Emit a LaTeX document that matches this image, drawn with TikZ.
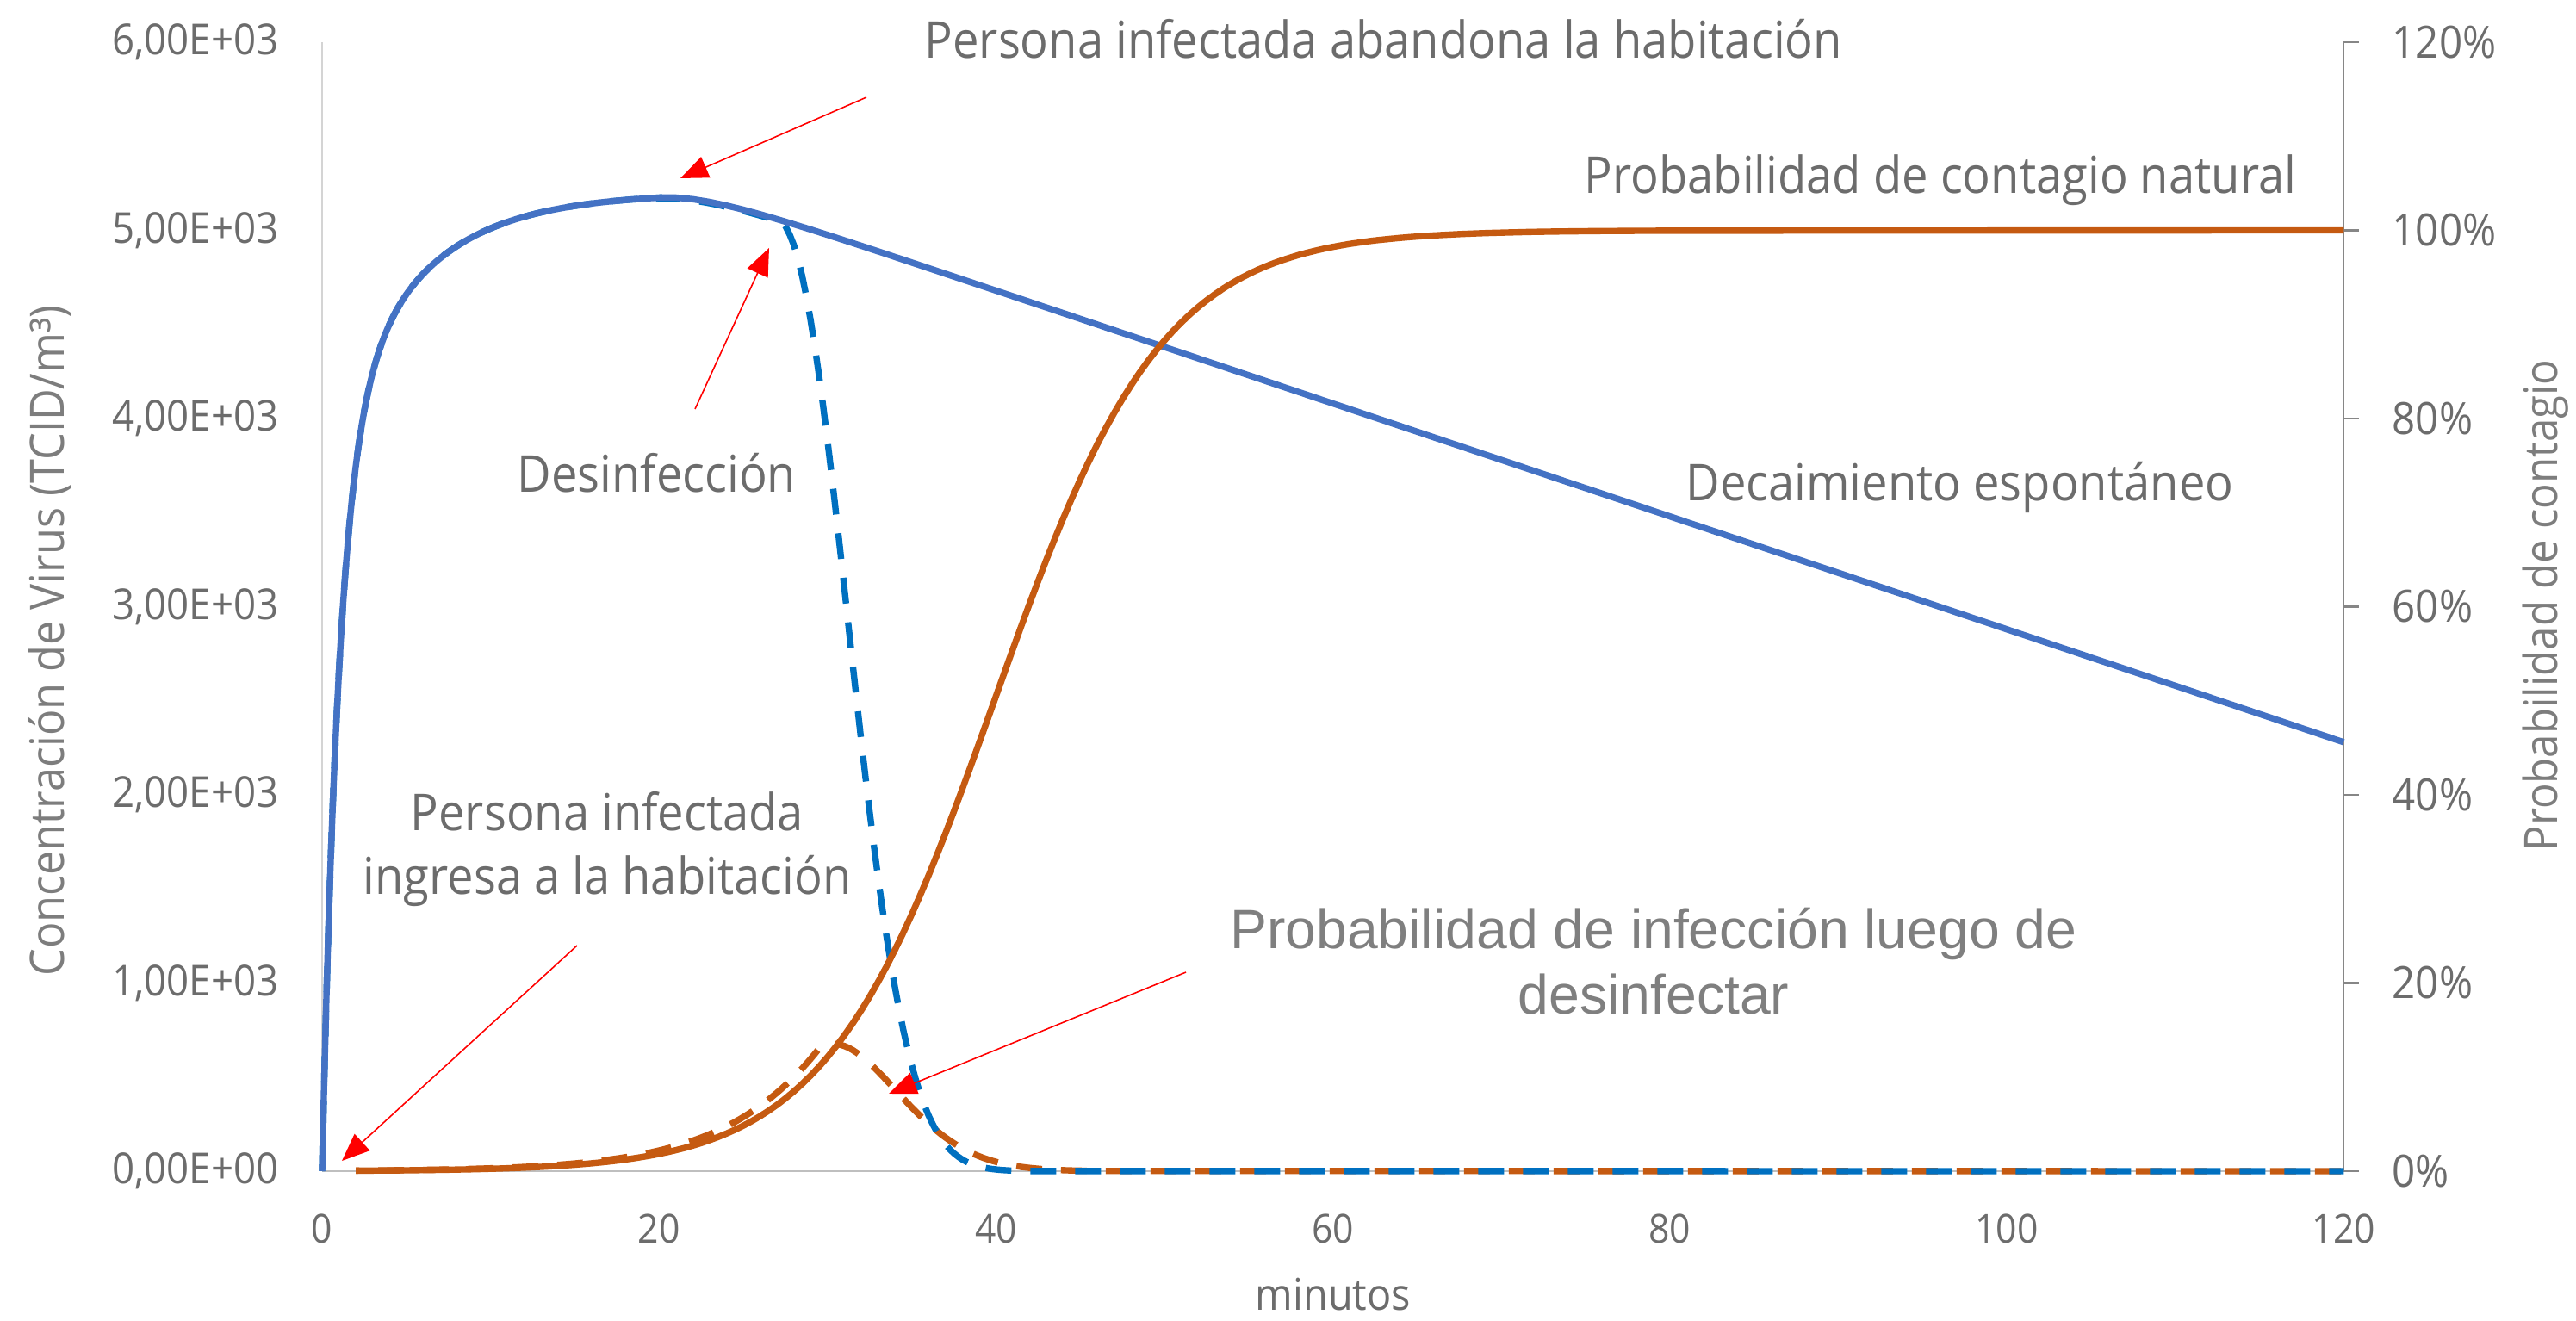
\documentclass[tikz,border=0pt]{standalone}
\usepackage{fontspec}
\setmainfont{Open Sans}[FakeStretch=0.92]
\newfontfamily\arialfont{Liberation Sans}
\usetikzlibrary{arrows.meta}

\definecolor{concblue}{RGB}{68,114,196}
\definecolor{disinfblue}{RGB}{0,112,192}
\definecolor{probrange}{RGB}{197,90,17}
\definecolor{labgray}{RGB}{108,108,108}
\definecolor{titlegray}{RGB}{125,125,125}
\definecolor{notegray}{RGB}{127,127,127}
\definecolor{axisgray}{RGB}{134,134,134}
\definecolor{baseaxis}{RGB}{191,191,191}
\definecolor{lightaxis}{RGB}{212,212,212}

\begin{document}
\begin{tikzpicture}[
    declare function={
      rise(\t)=3.8*(1-exp(-min(\t,9)))+1.4*(1-exp(-\t/5));
      fall(\t)=5.1744+0.1054*(1-exp(-min((\t-20)/3,9)))-0.03*(\t-20);
      pnat(\t)=5/(1+exp(-(\t-39.9)/5));
      sdis(\t)=exp(-min(exp(2.2*ln(max(\t-27,0.3)/5.65)),9));
      sprob(\t)=exp(-min(exp(1.55*ln(max(\t-29.2,0.3)/4.4)),9));
    },
    lab/.style={inner sep=0pt, text=labgray},
    note/.style={inner sep=0pt, text=labgray, font=\fontsize{16.8}{21.2}\selectfont},
    callout/.style={red, line width=0.45pt, -{Triangle[length=0.32cm,width=0.26cm]}},
    concline/.style={concblue, line width=2.1pt, line join=round},
    disline/.style={disinfblue, line width=2.1pt, dash pattern=on 0.3cm off 0.22cm},
    probline/.style={probrange, line width=2.1pt, line join=round},
    probdash/.style={probrange, line width=2.1pt, dash pattern=on 0.3cm off 0.22cm, dash phase=0.26cm}]
    \useasboundingbox (0,0) rectangle (29.91,15.33);

    \draw[lightaxis, line width=0.6pt] (3.74,1.73) -- (3.74,14.84);
    \draw[baseaxis, line width=0.8pt] (3.74,1.73) -- (27.21,1.73);
    \draw[axisgray, line width=0.7pt] (27.21,1.73) -- (27.21,14.84);
    \foreach \k in {0,...,6}
        \draw[axisgray, line width=0.7pt] (27.21,{1.73+2.185*\k}) -- ++(0.18,0);

    \node[lab, anchor=east, font=\fontsize{14.1}{17}\selectfont] (ytick0) at (3.24,1.73) {0,00E+00};
    \foreach \k in {1,...,6}
        \node[lab, anchor=east, font=\fontsize{14.1}{17}\selectfont] (ytick\k) at (3.24,{1.73+2.185*\k}) {\k,00E+03};
    \foreach \k in {0,...,6} {
        \pgfmathtruncatemacro{\pc}{20*\k}
        \node[lab, anchor=west, font=\fontsize{14.7}{17}\selectfont] (rtick\k) at (27.77,{1.73+2.185*\k}) {\pc\%};
        \pgfmathtruncatemacro{\mn}{20*\k}
        \node[lab, font=\fontsize{13.2}{16}\selectfont] (xtick\k) at ({3.74+3.912*\k},1.06) {\mn};
    }

    \node[inner sep=0pt, text=titlegray, rotate=90, font=\fontsize{15.6}{18}\selectfont] (ytitle) at (0.58,7.89) {Concentración de Virus (TCID/m³)};
    \node[inner sep=0pt, text=titlegray, rotate=90, font=\fontsize{15.2}{18}\selectfont] (rtitle) at (29.56,8.30) {Probabilidad de contagio};
    \node[lab, anchor=base, font=\fontsize{14.5}{17}\selectfont] (xtitle) at (15.48,0.12) {minutos};

    \begin{scope}[shift={(3.74,1.73)}, x=0.1956cm, y=2.185cm]
        \draw[probdash] plot[domain=2:46, samples=177] (\x,{pnat(\x+1.0)*sprob(\x)}) -- (120,0);
        \draw[disline] plot[domain=0:20, samples=161] (\x,{rise(\x)}) -- plot[domain=20:46, samples=105] (\x,{fall(\x)*sdis(\x)}) -- (120,0);
        \draw[concline] plot[domain=0:20, samples=161] (\x,{rise(\x)}) -- plot[domain=20:120, samples=101] (\x,{fall(\x)});
        \draw[probline] plot[domain=2:80, samples=157] (\x,{pnat(\x)}) -- (120,5);
    \end{scope}

    \node[note, anchor=base west] (leaveLab) at (10.73,14.65) {Persona infectada abandona la habitación};
    \node[note, anchor=base west] (naturalLab) at (18.39,13.08) {Probabilidad de contagio natural};
    \node[note, anchor=base west] (disinfLab) at (6.00,9.61) {Desinfección};
    \node[note, anchor=base east] (decayLab) at (25.94,9.51) {Decaimiento espontáneo};
    \node[note, align=center] (enterLab) at (7.05,5.47) {Persona infectada\\ingresa a la habitación};
    \node[inner sep=0pt, text=notegray, align=center, font=\arialfont\fontsize{18.3}{21.6}\selectfont] (afterLab) at (19.2,4.17) {Probabilidad de infección luego de\\desinfectar};

    \coordinate (leaveTail) at (10.06,14.20);
    \coordinate (leaveTip) at (7.90,13.26);
    \coordinate (disinfTail) at (8.07,10.58);
    \coordinate (disinfTip) at (8.93,12.45);
    \coordinate (enterTail) at (6.70,4.35);
    \coordinate (enterTip) at (3.97,1.85);
    \coordinate (afterTail) at (13.77,4.04);
    \coordinate (afterTip) at (10.32,2.63);
    \draw[callout] (leaveTail) -- (leaveTip);
    \draw[callout] (disinfTail) -- (disinfTip);
    \draw[callout] (enterTail) -- (enterTip);
    \draw[callout] (afterTail) -- (afterTip);
\end{tikzpicture}
\end{document}
